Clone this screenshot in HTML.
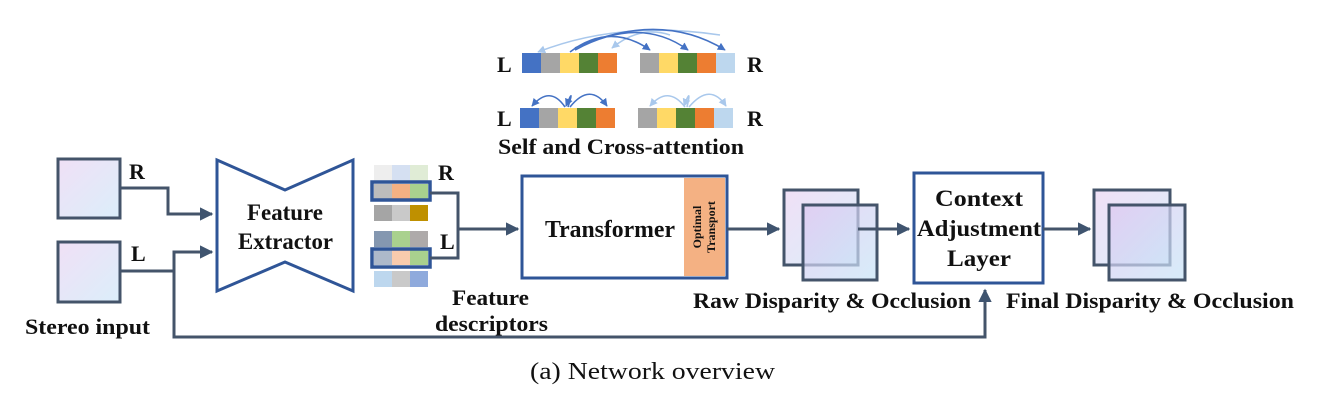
<!DOCTYPE html>
<html><head><meta charset="utf-8"><style>
html,body{margin:0;padding:0;background:#fff;}
svg{display:block;font-family:"Liberation Serif",serif;}
.b{font-weight:bold;fill:#111;}
</style></head><body>
<svg width="1326" height="412" viewBox="0 0 1326 412" xmlns="http://www.w3.org/2000/svg">
<defs>
<linearGradient id="g" x1="0" y1="0" x2="1" y2="1"><stop offset="0" stop-color="#f0e0f6"/><stop offset="1" stop-color="#dbeefa"/></linearGradient>
<linearGradient id="g2" x1="0" y1="0" x2="1" y2="1"><stop offset="0" stop-color="#dcc6f0"/><stop offset="1" stop-color="#c6e4f7"/></linearGradient>
<marker id="a" viewBox="0 0 10 10" refX="9" refY="5" markerWidth="4.5" markerHeight="4.5" orient="auto"><path d="M0,0L10,5L0,10z" fill="#3f546f"/></marker>
<marker id="ab" viewBox="0 0 10 10" refX="9" refY="5" markerWidth="5" markerHeight="5" orient="auto"><path d="M0,0L10,5L0,10z" fill="#4472c4"/></marker>
<marker id="al" viewBox="0 0 10 10" refX="9" refY="5" markerWidth="5" markerHeight="5" orient="auto"><path d="M0,0L10,5L0,10z" fill="#a9c8ec"/></marker>
</defs>

<g>
<rect x="522" y="53" width="19" height="20" fill="#4472c4"/><rect x="541" y="53" width="19" height="20" fill="#a5a5a5"/><rect x="560" y="53" width="19" height="20" fill="#ffd966"/><rect x="579" y="53" width="19" height="20" fill="#548235"/><rect x="598" y="53" width="19" height="20" fill="#ed7d31"/>
<rect x="640" y="53" width="19" height="20" fill="#a5a5a5"/><rect x="659" y="53" width="19" height="20" fill="#ffd966"/><rect x="678" y="53" width="19" height="20" fill="#548235"/><rect x="697" y="53" width="19" height="20" fill="#ed7d31"/><rect x="716" y="53" width="19" height="20" fill="#bdd7ee"/>
<rect x="520" y="108" width="19" height="20" fill="#4472c4"/><rect x="539" y="108" width="19" height="20" fill="#a5a5a5"/><rect x="558" y="108" width="19" height="20" fill="#ffd966"/><rect x="577" y="108" width="19" height="20" fill="#548235"/><rect x="596" y="108" width="19" height="20" fill="#ed7d31"/>
<rect x="638" y="108" width="19" height="20" fill="#a5a5a5"/><rect x="657" y="108" width="19" height="20" fill="#ffd966"/><rect x="676" y="108" width="19" height="20" fill="#548235"/><rect x="695" y="108" width="19" height="20" fill="#ed7d31"/><rect x="714" y="108" width="19" height="20" fill="#bdd7ee"/>
<g fill="none" stroke-width="1.6">
<path d="M720,35 Q620,20 538,52" stroke="#a9c8ec" marker-end="url(#al)"/>
<path d="M670,35 Q640,25 612,48" stroke="#a9c8ec" marker-end="url(#al)"/>
<path d="M570,52 Q610,22 650,50" stroke="#4472c4" marker-end="url(#ab)"/>
<path d="M575,50 Q640,15 688,50" stroke="#4472c4" marker-end="url(#ab)"/>
<path d="M575,48 Q660,10 725,50" stroke="#4472c4" marker-end="url(#ab)"/>
<path d="M565,107 Q550,85 532,106" stroke="#4472c4" marker-end="url(#ab)"/>
<path d="M568,107 Q575,85 566,106" stroke="#4472c4" marker-end="url(#ab)"/>
<path d="M570,107 Q590,82 607,106" stroke="#4472c4" marker-end="url(#ab)"/>
<path d="M685,107 Q668,85 650,106" stroke="#a9c8ec" marker-end="url(#al)"/>
<path d="M687,107 Q692,85 684,106" stroke="#a9c8ec" marker-end="url(#al)"/>
<path d="M689,107 Q710,82 726,106" stroke="#a9c8ec" marker-end="url(#al)"/>
</g>
<text x="497" y="72" class="b" font-size="22">L</text><text x="747" y="72" class="b" font-size="22">R</text>
<text x="497" y="126" class="b" font-size="22">L</text><text x="747" y="126" class="b" font-size="22">R</text>
<text x="498" y="154" class="b" font-size="22" textLength="246" lengthAdjust="spacingAndGlyphs">Self and Cross-attention</text>
</g>

<rect x="58" y="159" width="62" height="59" fill="url(#g)" stroke="#44546a" stroke-width="3"/>
<rect x="58" y="242" width="62" height="60" fill="url(#g)" stroke="#44546a" stroke-width="3"/>
<text x="129" y="179" class="b" font-size="22">R</text>
<text x="131" y="261" class="b" font-size="22">L</text>
<text x="25" y="334" class="b" font-size="22" textLength="125" lengthAdjust="spacingAndGlyphs">Stereo input</text>
<g fill="none" stroke="#44546a" stroke-width="3">
<path d="M120,188H168V214H212" marker-end="url(#a)"/>
<path d="M120,271H174V252H212" marker-end="url(#a)"/>
<path d="M174,271V337H985V290" marker-end="url(#a)"/>
</g>

<path d="M217,160L285,190L353,160V291L285,262L217,291Z" fill="#fff" stroke="#2f5597" stroke-width="3"/>
<text x="247" y="220" class="b" font-size="23" textLength="76" lengthAdjust="spacingAndGlyphs">Feature</text>
<text x="238" y="249" class="b" font-size="23" textLength="95" lengthAdjust="spacingAndGlyphs">Extractor</text>

<g>
<rect x="374" y="165" width="18" height="16" fill="#eeeeee"/><rect x="392" y="165" width="18" height="16" fill="#d5e0f2"/><rect x="410" y="165" width="18" height="16" fill="#e0ecd6"/>
<rect x="374" y="184" width="18" height="15" fill="#bcbcbc"/><rect x="392" y="184" width="18" height="15" fill="#f4b183"/><rect x="410" y="184" width="18" height="15" fill="#a9d18e"/>
<rect x="374" y="205" width="18" height="16" fill="#a5a5a5"/><rect x="392" y="205" width="18" height="16" fill="#c9c9c9"/><rect x="410" y="205" width="18" height="16" fill="#bf9000"/>
<rect x="374" y="231" width="18" height="16" fill="#8497b0"/><rect x="392" y="231" width="18" height="16" fill="#a9d18e"/><rect x="410" y="231" width="18" height="16" fill="#aeaaaa"/>
<rect x="374" y="250" width="18" height="15" fill="#adb9ca"/><rect x="392" y="250" width="18" height="15" fill="#f8cbad"/><rect x="410" y="250" width="18" height="15" fill="#a9d18e"/>
<rect x="374" y="271" width="18" height="16" fill="#bdd7ee"/><rect x="392" y="271" width="18" height="16" fill="#c9c9c9"/><rect x="410" y="271" width="18" height="16" fill="#8faadc"/>
<rect x="372" y="182" width="58" height="18" fill="none" stroke="#2f5597" stroke-width="3.5"/>
<rect x="372" y="249" width="58" height="18" fill="none" stroke="#2f5597" stroke-width="3.5"/>
</g>
<text x="438" y="180" class="b" font-size="22">R</text>
<text x="440" y="249" class="b" font-size="22">L</text>
<g fill="none" stroke="#44546a" stroke-width="3">
<path d="M430,193H458V258H430"/>
<path d="M458,229H518" marker-end="url(#a)"/>
</g>
<text x="452" y="305" class="b" font-size="22" textLength="77" lengthAdjust="spacingAndGlyphs">Feature</text>
<text x="435" y="331" class="b" font-size="22" textLength="113" lengthAdjust="spacingAndGlyphs">descriptors</text>

<rect x="522" y="176" width="205" height="102" fill="#fff" stroke="#2f5597" stroke-width="3"/>
<rect x="684" y="178" width="41" height="98" fill="#f4b183"/>
<text x="545" y="237" class="b" font-size="24" textLength="130" lengthAdjust="spacingAndGlyphs">Transformer</text>
<text transform="translate(701,227) rotate(-90)" class="b" font-size="12" text-anchor="middle">Optimal</text>
<text transform="translate(715,227) rotate(-90)" class="b" font-size="12" text-anchor="middle">Transport</text>
<path d="M727,229H779" stroke="#44546a" stroke-width="3" fill="none" marker-end="url(#a)"/>

<rect x="784" y="190" width="74" height="75" fill="url(#g)" stroke="#44546a" stroke-width="3"/>
<rect x="803" y="205" width="74" height="75" fill="url(#g2)" fill-opacity="0.7" stroke="#44546a" stroke-width="3"/>
<path d="M858,229H909" stroke="#44546a" stroke-width="3" fill="none" marker-end="url(#a)"/>
<text x="693" y="308" class="b" font-size="22" textLength="278" lengthAdjust="spacingAndGlyphs">Raw Disparity &amp; Occlusion</text>

<rect x="914" y="173" width="129" height="110" fill="#fff" stroke="#2f5597" stroke-width="3"/>
<text x="935" y="206" class="b" font-size="23" textLength="88" lengthAdjust="spacingAndGlyphs">Context</text>
<text x="917" y="236" class="b" font-size="23" textLength="124" lengthAdjust="spacingAndGlyphs">Adjustment</text>
<text x="947" y="266" class="b" font-size="23" textLength="64" lengthAdjust="spacingAndGlyphs">Layer</text>
<path d="M1043,229H1090" stroke="#44546a" stroke-width="3" fill="none" marker-end="url(#a)"/>

<rect x="1094" y="190" width="76" height="75" fill="url(#g)" stroke="#44546a" stroke-width="3"/>
<rect x="1109" y="205" width="76" height="75" fill="url(#g2)" fill-opacity="0.7" stroke="#44546a" stroke-width="3"/>
<text x="1006" y="308" class="b" font-size="22" textLength="288" lengthAdjust="spacingAndGlyphs">Final Disparity &amp; Occlusion</text>

<text x="530" y="379" font-size="24" fill="#111" textLength="245" lengthAdjust="spacingAndGlyphs">(a) Network overview</text>
</svg>
</body></html>
